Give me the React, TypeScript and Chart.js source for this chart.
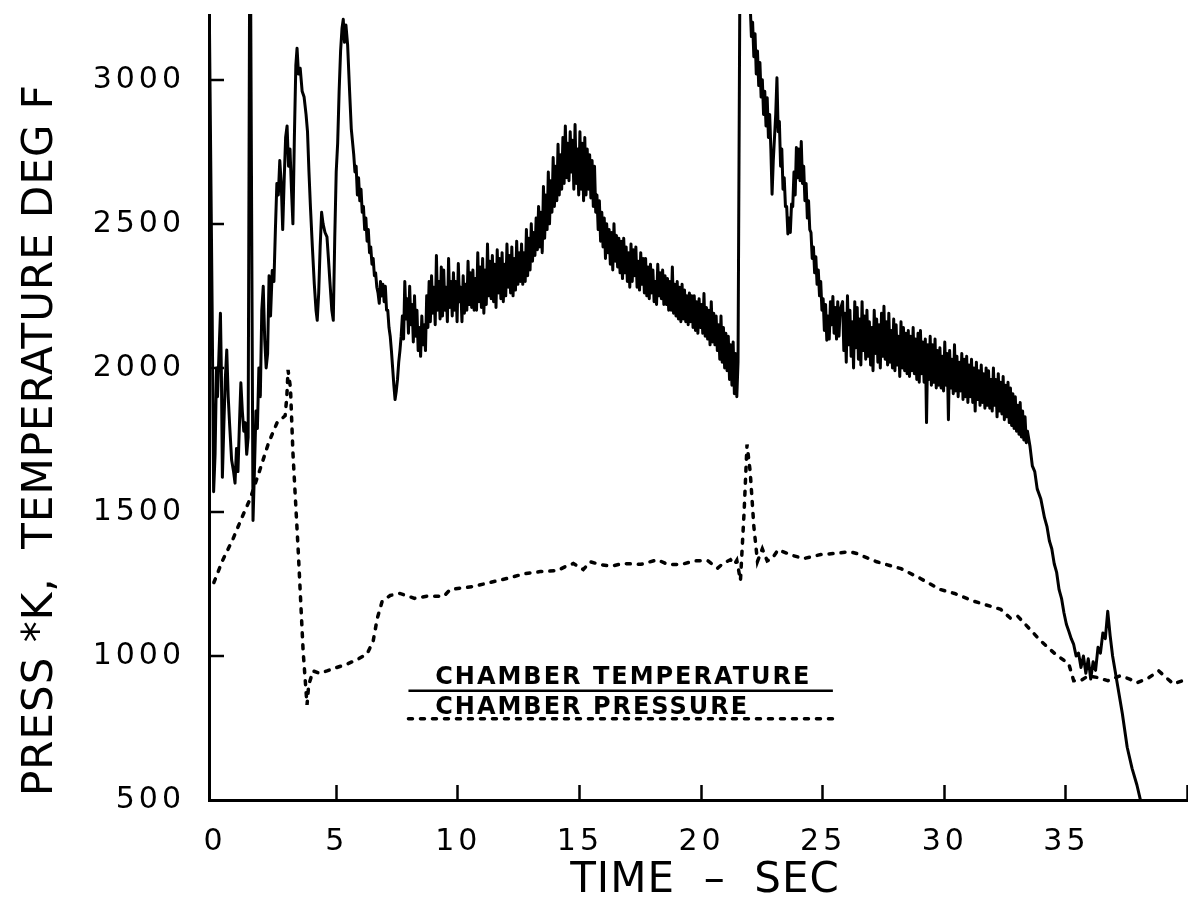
import React, { useEffect, useRef } from "react";
import { Chart, registerables } from "chart.js";

Chart.register(...registerables);

// ---------- axes ----------
const xTickLabels = [0, 5, 10, 15, 20, 25, 30, 35];
const xTickMarks = [5, 10, 15, 20, 25, 30, 35, 40];
const yTickLabels = [500, 1000, 1500, 2000, 2500, 3000];
const yTickMarks = [1000, 1500, 2000, 2500, 3000];
const xTitle = "TIME  \u2013  SEC";
const yTitle = "PRESS *K,  TEMPERATURE DEG F";
const legendTemp = "CHAMBER TEMPERATURE";
const legendPress = "CHAMBER PRESSURE";

// ---------- chamber temperature (deg F) ----------
// start-up transient, [time s, value]
const tempHead: [number, number][] = [
  [-0.25, 3350], [-0.12, 2200], [-0.06, 1570], [0.0, 1700], [0.06, 2000], [0.1, 1900],
  [0.16, 2050], [0.22, 2190], [0.26, 1980], [0.3, 1620], [0.36, 1800], [0.42, 1960],
  [0.48, 2062], [0.54, 1900], [0.6, 1800], [0.68, 1680], [0.76, 1640], [0.82, 1600],
  [0.88, 1720], [0.94, 1640], [1.0, 1800], [1.06, 1948], [1.12, 1850], [1.18, 1780],
  [1.24, 1810], [1.3, 1700], [1.36, 1760], [1.42, 3350], [1.46, 3350], [1.56, 1470],
  [1.62, 1650], [1.68, 1850], [1.74, 1790], [1.8, 2000], [1.86, 1900], [1.92, 2200],
  [1.98, 2283], [2.04, 2100], [2.1, 2000], [2.16, 2050], [2.22, 2320], [2.28, 2180],
  [2.35, 2338], [2.42, 2300], [2.48, 2480], [2.54, 2640], [2.6, 2600], [2.66, 2720],
  [2.72, 2640], [2.78, 2480], [2.84, 2650], [2.9, 2800], [2.96, 2840], [3.02, 2700],
  [3.08, 2760], [3.14, 2620], [3.2, 2500], [3.26, 2800], [3.32, 3050], [3.37, 3110],
  [3.43, 3020], [3.5, 3040], [3.58, 2960], [3.66, 2940], [3.74, 2880], [3.8, 2820],
  [3.86, 2680], [3.92, 2560], [4.0, 2420], [4.08, 2290], [4.15, 2200], [4.2, 2165],
  [4.26, 2260], [4.32, 2420], [4.38, 2540], [4.44, 2500], [4.52, 2470], [4.6, 2455],
  [4.66, 2380], [4.72, 2300], [4.8, 2200], [4.86, 2165], [4.92, 2450], [4.98, 2680],
  [5.04, 2780], [5.1, 2960], [5.16, 3100], [5.22, 3180], [5.27, 3210], [5.32, 3130],
  [5.38, 3190], [5.45, 3120], [5.52, 2980], [5.6, 2830],
];

// noisy record sampled every 0.05 s from 5.7 s to 21.5 s
const tempBandAStart = 5.7;
const tempBandAValues = [
  2741, 2680, 2700, 2600, 2660, 2580, 2620, 2540, 2560, 2480, 2520, 2440, 2480, 2400, 2420, 2360, 2380, 2320, 2330, 2280,
  2260, 2224, 2300, 2250, 2290, 2230, 2283, 2200, 2200, 2140, 2110, 2060, 2000, 1940, 1890, 1920, 1960, 2020, 2060, 2110,
  2180, 2100, 2300, 2170, 2240, 2120, 2283, 2150, 2220, 2090, 2250, 2110, 2200, 2060, 2140, 2040, 2180, 2080, 2150, 2060,
  2250, 2140, 2300, 2160, 2320, 2190, 2280, 2150, 2390, 2200, 2300, 2170, 2350, 2180, 2340, 2200, 2280, 2160, 2380, 2210,
  2300, 2180, 2330, 2200, 2300, 2160, 2362, 2230, 2280, 2160, 2320, 2190, 2290, 2200, 2370, 2220, 2330, 2210, 2340, 2200,
  2310, 2200, 2400, 2230, 2350, 2210, 2380, 2190, 2340, 2220, 2430, 2250, 2370, 2240, 2390, 2230, 2360, 2210, 2410, 2260,
  2380, 2240, 2400, 2230, 2360, 2250, 2430, 2280, 2390, 2260, 2420, 2250, 2380, 2270, 2440, 2290, 2400, 2300, 2430, 2290,
  2400, 2300, 2480, 2320, 2450, 2340, 2500, 2370, 2470, 2390, 2520, 2410, 2560, 2420, 2540, 2400, 2630, 2450, 2600, 2480,
  2680, 2500, 2650, 2540, 2730, 2560, 2700, 2580, 2776, 2600, 2740, 2620, 2800, 2640, 2840, 2660, 2780, 2650, 2820, 2680,
  2790, 2620, 2845, 2640, 2760, 2600, 2820, 2620, 2780, 2580, 2800, 2600, 2760, 2620, 2740, 2590, 2720, 2560, 2700, 2540,
  2600, 2480, 2580, 2440, 2540, 2420, 2520, 2380, 2500, 2400, 2480, 2360, 2470, 2340, 2500, 2370, 2460, 2350, 2450, 2330,
  2440, 2310, 2450, 2330, 2420, 2300, 2400, 2280, 2430, 2300, 2410, 2320, 2420, 2280, 2370, 2270, 2400, 2290, 2380, 2260,
  2380, 2250, 2350, 2240, 2360, 2260, 2340, 2230, 2300, 2220, 2360, 2250, 2330, 2240, 2340, 2220, 2320, 2220, 2310, 2200,
  2300, 2200, 2350, 2190, 2290, 2180, 2300, 2170, 2280, 2160, 2290, 2170, 2270, 2160, 2250, 2150, 2260, 2160, 2250, 2140,
  2250, 2130, 2230, 2120, 2240, 2140, 2220, 2120, 2258, 2110, 2210, 2100, 2200, 2080, 2230, 2090, 2190, 2080, 2180, 2060,
  2150, 2030, 2180, 2020, 2140, 2000, 2120, 1990, 2110, 1960, 2080, 1940, 2090, 1910, 2050, 1900, 2020,
];

// off-scale excursion
const tempSpike: [number, number][] = [[21.58, 3400], [21.9, 3400]];

// noisy record sampled every 0.05 s from 22.0 s to 25.7 s
const tempBandB1Start = 22.0;
const tempBandB1Values = [
  3260, 3150, 3200, 3080, 3160, 3020, 3100, 2980, 3060, 2940,
  3000, 2880, 2960, 2840, 2938, 2800, 2880, 2760, 2603, 2720,
  2800, 2880, 3007, 2820, 2855, 2700, 2760, 2620, 2660, 2560,
  2560, 2465, 2520, 2470, 2569, 2560, 2680, 2600, 2765, 2660,
  2760, 2650, 2786, 2640, 2700, 2580, 2640, 2520, 2580, 2480,
  2470, 2380, 2420, 2330, 2386, 2290, 2340, 2250, 2300, 2200,
  2240, 2130, 2220, 2096, 2180, 2100, 2230, 2150, 2248, 2120,
  2210, 2100, 2230, 2110, 2200,
];

// noisy record sampled every 0.05 s from 25.8 s to 33.4 s
const tempBandB2Start = 25.8;
const tempBandB2Values = [
  2230, 2060, 2190, 2020, 2250, 2080, 2200, 2040, 2160, 2000, 2230, 2070, 2210, 2030, 2170, 2010, 2230, 2060, 2180, 2030,
  2200, 2040, 2160, 2010, 2140, 1990, 2200, 2050, 2170, 2020, 2150, 2000, 2190, 2040, 2214, 2030, 2160, 2010, 2190, 2020,
  2130, 2000, 2170, 1990, 2150, 2010, 2110, 1970, 2160, 2000, 2140, 1990, 2120, 1980, 2130, 1970, 2110, 1990, 2140, 1980,
  2100, 1960, 2120, 1950, 2130, 1980, 2090, 1950, 2100, 1810, 2080, 1960, 2110, 1940, 2080, 1950, 2100, 1930, 2060, 1940,
  2070, 1930, 2040, 1920, 2090, 1940, 2050, 1820, 2060, 1930, 2030, 1910, 2080, 1920, 2040, 1900, 2020, 1920, 2050, 1890,
  2030, 1900, 2040, 1880, 2010, 1900, 2030, 1880, 2000, 1850, 2020, 1890, 1990, 1870, 2010, 1880, 1980, 1860, 2000, 1870,
  1990, 1860, 1960, 1850, 2000, 1870, 1960, 1830, 1980, 1850, 1950, 1840, 1970, 1820, 1940, 1830, 1950, 1810, 1930, 1800,
  1910, 1790, 1900, 1780, 1870, 1770, 1880, 1760, 1850, 1750, 1830, 1740, 1780,
];

// shutdown, [time s, value]
const tempTail: [number, number][] = [
  [33.5, 1730], [33.6, 1660], [33.7, 1640], [33.8, 1580], [33.95, 1545], [34.1, 1480],
  [34.2, 1450], [34.3, 1400], [34.4, 1372], [34.5, 1320], [34.6, 1290], [34.7, 1230],
  [34.8, 1200], [34.9, 1150], [35.0, 1110], [35.1, 1086], [35.2, 1060], [35.3, 1040],
  [35.4, 1000], [35.5, 1010], [35.6, 960], [35.7, 1000], [35.8, 940], [35.9, 990],
  [36.0, 920], [36.1, 980], [36.2, 950], [36.3, 1030], [36.4, 1010], [36.5, 1080],
  [36.6, 1060], [36.7, 1155], [36.8, 1070], [36.9, 1000], [37.0, 950], [37.1, 900],
  [37.3, 800], [37.5, 683], [37.7, 610], [37.9, 552], [38.1, 480],
];

// ---------- chamber pressure ----------
const pressure: [number, number][] = [
  [-0.05, 1255], [0.3, 1330], [0.74, 1407], [1.1, 1480], [1.44, 1545], [1.85, 1648],
  [2.2, 1740], [2.55, 1810], [2.88, 1834], [2.95, 1900], [3.0, 1993], [3.1, 1930],
  [3.2, 1707], [3.42, 1362], [3.62, 1017], [3.78, 830], [3.85, 900], [4.03, 948],
  [4.3, 940], [4.6, 948], [5.0, 960], [5.43, 972], [5.9, 990], [6.25, 1007],
  [6.5, 1052], [6.67, 1131], [6.87, 1190], [7.2, 1210], [7.6, 1217], [8.2, 1200],
  [8.7, 1207], [9.4, 1207], [9.67, 1231], [10.6, 1241], [11.3, 1255], [12.0, 1269],
  [12.7, 1285], [13.37, 1293], [14.07, 1296], [14.4, 1310], [14.73, 1321], [15.14, 1300],
  [15.43, 1327], [15.84, 1317], [16.3, 1312], [16.79, 1321], [17.5, 1318], [18.19, 1334],
  [18.6, 1318], [19.14, 1317], [19.7, 1330], [20.25, 1331], [20.66, 1305], [20.9, 1322],
  [21.19, 1334], [21.35, 1318], [21.45, 1332], [21.52, 1300], [21.6, 1262], [21.75, 1500],
  [21.87, 1734], [22.0, 1640], [22.15, 1450], [22.3, 1328], [22.5, 1372], [22.7, 1330],
  [22.9, 1338], [23.15, 1369], [23.7, 1350], [24.2, 1338], [24.9, 1352], [25.5, 1356],
  [26.1, 1362], [26.4, 1355], [27.2, 1327], [28.2, 1303], [29.0, 1269], [29.8, 1231],
  [30.4, 1217], [31.2, 1190], [32.3, 1162], [32.7, 1131], [33.0, 1138], [33.95, 1052],
  [34.5, 1010], [35.1, 972], [35.3, 914], [35.6, 915], [35.9, 931], [36.3, 925],
  [36.7, 914], [37.2, 931], [37.6, 920], [37.9, 907], [38.4, 925], [38.8, 948],
  [39.1, 925], [39.4, 903], [39.8, 915], [40.0, 921],
];

const STEP_FINE = 0.05;
const FONT = '"DejaVu Sans", "Liberation Sans", sans-serif';

function pairsToPoints(p: [number, number][]) {
  return p.map(([x, y]) => ({ x, y }));
}
function bandToPoints(start: number, step: number, values: number[]) {
  return values.map((y, i) => ({ x: Math.round((start + i * step) * 1000) / 1000, y }));
}

const decorPlugin = {
  id: "decor",
  beforeDraw(chart: any) {
    chart.ctx.letterSpacing = "4px";
  },
  afterDraw(chart: any) {
    const { ctx, chartArea } = chart;
    const x = chart.scales.x;
    const y = chart.scales.y;
    ctx.save();
    ctx.strokeStyle = "#000";
    ctx.fillStyle = "#000";
    ctx.lineWidth = 2.5;
    ctx.lineCap = "butt";
    ctx.setLineDash([]);
    // inward tick marks
    xTickMarks.forEach((v) => {
      const px = Math.round(x.getPixelForValue(v)) - 0.5;
      ctx.beginPath();
      ctx.moveTo(px, chartArea.bottom);
      ctx.lineTo(px, chartArea.bottom - 15);
      ctx.stroke();
    });
    yTickMarks.forEach((v) => {
      const py = Math.round(y.getPixelForValue(v));
      ctx.beginPath();
      ctx.moveTo(chartArea.left, py);
      ctx.lineTo(chartArea.left + 15, py);
      ctx.stroke();
    });

    // axis titles
    ctx.letterSpacing = "1px";
    ctx.textAlign = "center";
    ctx.textBaseline = "middle";
    ctx.font = `42px ${FONT}`;
    ctx.save();
    ctx.translate(41, 440);
    ctx.rotate(-Math.PI / 2);
    ctx.fillText(yTitle, 0, 0);
    ctx.restore();
    ctx.font = `42px ${FONT}`;
    ctx.fillText(xTitle, 705, 881);

    // legend
    const lx0 = x.getPixelForValue(7.95);
    const lx1 = x.getPixelForValue(25.4);
    const tx = x.getPixelForValue(9.05);
    ctx.letterSpacing = "2px";
    ctx.textAlign = "left";
    ctx.textBaseline = "alphabetic";
    ctx.font = `bold 24px ${FONT}`;
    ctx.fillText(legendTemp, tx, y.getPixelForValue(903));
    ctx.fillText(legendPress, tx, y.getPixelForValue(800));
    ctx.lineWidth = 2.5;
    ctx.beginPath();
    ctx.moveTo(lx0, y.getPixelForValue(879));
    ctx.lineTo(lx1, y.getPixelForValue(879));
    ctx.stroke();
    ctx.lineWidth = 3.5;
    ctx.lineCap = "round";
    ctx.setLineDash([4, 8]);
    ctx.beginPath();
    ctx.moveTo(lx0, y.getPixelForValue(782));
    ctx.lineTo(lx1, y.getPixelForValue(782));
    ctx.stroke();
    ctx.restore();
  },
};

export default function App() {
  const canvasRef = useRef<HTMLCanvasElement | null>(null);

  useEffect(() => {
    const canvas = canvasRef.current;
    if (!canvas) return;
    const tempPoints = [
      ...pairsToPoints(tempHead),
      ...bandToPoints(tempBandAStart, STEP_FINE, tempBandAValues),
      ...pairsToPoints(tempSpike),
      ...bandToPoints(tempBandB1Start, STEP_FINE, tempBandB1Values),
      ...bandToPoints(tempBandB2Start, STEP_FINE, tempBandB2Values),
      ...pairsToPoints(tempTail),
    ];
    const pressPoints = pairsToPoints(pressure);

    const chart = new Chart(canvas, {
      type: "line",
      data: {
        datasets: [
          {
            label: legendTemp,
            data: tempPoints,
            borderColor: "#000",
            borderWidth: 3,
            borderJoinStyle: "round",
            pointRadius: 0,
            tension: 0,
            fill: false,
            clip: 1,
          },
          {
            label: legendPress,
            data: pressPoints,
            borderColor: "#000",
            borderWidth: 3.5,
            borderDash: [4, 8],
            borderCapStyle: "round",
            pointRadius: 0,
            tension: 0,
            fill: false,
            clip: 1,
          },
        ],
      },
      options: {
        responsive: false,
        animation: false,
        devicePixelRatio: 1,
        layout: { padding: { top: 15, right: 0, left: 0, bottom: 0 } },
        plugins: {
          legend: { display: false },
          tooltip: { enabled: false },
          title: { display: false },
        },
        scales: {
          x: {
            type: "linear",
            min: -0.25,
            max: 40,
            afterBuildTicks: (s: any) => {
              s.ticks = xTickLabels.map((value) => ({ value }));
            },
            afterFit: (s: any) => {
              s.height = 110;
              s.paddingLeft = 0;
              s.paddingRight = 0;
            },
            grid: { display: false, drawTicks: false },
            border: { display: true, color: "#000", width: 3 },
            ticks: {
              color: "#000",
              font: { family: FONT, size: 30 },
              padding: 24,
              maxRotation: 0,
              autoSkip: false,
              callback: (v: any) => String(v),
            },
          },
          y: {
            type: "linear",
            min: 500,
            max: 3225,
            afterBuildTicks: (s: any) => {
              s.ticks = yTickLabels.map((value) => ({ value }));
            },
            afterFit: (s: any) => {
              s.width = 209;
              s.paddingTop = 0;
              s.paddingBottom = 0;
            },
            grid: { display: false, drawTicks: false },
            border: { display: true, color: "#000", width: 3 },
            ticks: {
              color: "#000",
              font: { family: FONT, size: 30 },
              padding: 24,
              autoSkip: false,
              callback: (v: any) => String(v),
            },
          },
        },
      },
      plugins: [decorPlugin],
    } as any);

    return () => chart.destroy();
  }, []);

  return (
    <div style={{ position: "absolute", left: 0, top: 0, width: 1188, height: 910, background: "#fff" }}>
      <canvas ref={canvasRef} width={1188} height={910} style={{ display: "block", width: 1188, height: 910 }} />
    </div>
  );
}
